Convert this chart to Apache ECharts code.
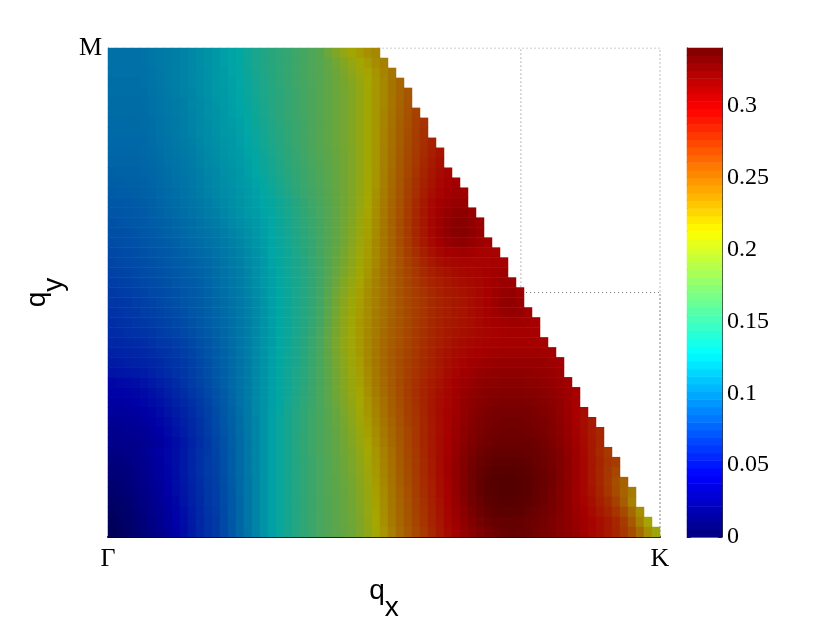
<!DOCTYPE html>
<html><head><meta charset="utf-8">
<script src="https://cdn.jsdelivr.net/npm/echarts@6/dist/echarts.min.js"></script>
<style>html,body{margin:0;padding:0;background:#fff}#c{width:830px;height:624px}</style></head>
<body><div id="c"></div>
<script>
const row00=[100,100,100,100,101,103,105,106,108,110,112,115,118,121,124,126,129,135,140,144,148,151,155,159,163,167,172,182,192,203,211,218,224,229];
const row01=[100,100,100,100,101,103,105,106,108,110,112,115,118,121,124,126,129,135,140,144,148,151,155,159,163,167,171,178,186,195,204,211,218,226,232];
const row02=[100,100,100,100,100,102,104,106,108,110,112,114,117,120,123,126,128,134,139,143,147,151,155,159,163,167,171,176,183,191,199,207,214,222,230,238];
const row03=[99,99,99,99,100,102,104,106,108,110,112,114,117,120,123,125,128,133,138,143,147,151,155,159,163,167,171,176,182,189,196,204,212,220,229,238,246];
const row04=[99,99,99,99,99,101,103,105,107,109,111,114,117,120,122,125,127,132,137,142,146,150,154,158,162,166,171,176,181,187,194,202,211,220,229,238,246,254];
const row05=[98,98,98,98,99,100,102,104,106,108,111,113,116,119,122,124,127,131,136,141,146,150,154,158,162,166,171,176,181,187,194,202,211,220,229,238,247,255];
const row06=[98,98,98,98,98,100,102,104,106,108,110,113,116,118,121,124,126,130,135,140,145,150,154,158,162,166,171,176,181,187,194,202,211,220,230,239,248,256,264];
const row07=[97,97,97,97,98,99,101,103,105,107,110,112,115,118,120,123,125,129,134,139,144,149,153,157,161,166,171,176,181,187,194,202,211,220,230,240,249,257,265,272];
const row08=[97,97,97,97,97,99,101,103,105,107,109,112,114,117,120,122,125,128,133,138,143,148,152,157,161,166,171,176,181,187,194,202,211,221,231,241,250,258,266,273];
const row09=[96,96,96,96,96,98,100,102,104,106,108,111,114,116,119,121,124,127,132,137,142,147,152,156,161,166,171,176,181,187,194,202,211,221,231,241,250,259,267,274,281];
const row10=[95,95,95,95,96,97,99,101,103,105,107,110,113,115,118,120,123,126,130,135,140,145,150,155,160,165,170,175,180,186,193,201,211,221,232,242,251,260,268,275,282,288];
const row11=[94,94,94,94,95,96,98,100,102,104,106,109,112,114,117,119,122,125,129,134,139,144,149,154,159,164,169,174,180,186,193,201,211,221,232,242,252,261,269,277,284,290];
const row12=[92,93,93,93,94,95,97,99,101,103,105,108,111,113,116,118,121,124,128,132,137,142,148,153,158,163,168,173,179,186,193,201,211,222,233,243,253,262,271,279,286,292,296];
const row13=[91,91,92,92,93,94,96,98,100,102,104,107,110,112,115,117,120,123,126,130,135,141,146,152,157,162,167,173,179,185,193,201,211,222,233,244,254,264,273,281,288,294,298,300];
const row14=[89,90,90,91,92,93,95,97,99,101,103,106,109,111,114,116,119,122,125,129,133,139,144,150,156,161,166,172,178,185,193,202,212,223,234,245,255,265,274,283,290,296,300,303,302];
const row15=[87,87,88,89,90,92,94,96,98,100,102,104,107,110,113,115,118,121,124,127,131,136,141,147,153,159,165,171,178,185,193,203,213,224,235,246,256,266,276,285,293,299,303,306,306];
const row16=[86,86,87,88,89,91,93,95,97,99,101,103,106,108,111,114,117,120,123,126,130,135,140,146,152,158,164,170,177,185,194,204,214,225,236,247,257,267,277,286,294,301,306,310,310,306];
const row17=[84,85,86,87,88,90,91,93,95,97,99,101,104,106,109,112,115,118,121,125,129,134,139,145,151,157,163,170,177,185,195,205,215,226,237,248,258,268,278,287,295,303,309,313,313,309,304];
const row18=[83,83,84,85,87,88,90,92,94,96,98,100,102,104,107,110,113,116,120,124,128,133,138,144,150,156,163,170,177,186,196,206,216,227,238,248,258,268,278,287,295,303,309,313,314,310,305];
const row19=[81,82,83,84,85,87,88,90,92,94,96,98,100,102,105,108,111,115,119,123,127,132,137,143,149,155,162,169,177,186,197,207,217,228,238,248,258,267,277,285,293,300,306,309,310,307,303,300];
const row20=[79,80,81,82,84,85,87,88,90,92,94,96,98,100,103,106,109,113,117,122,127,131,136,142,148,155,162,170,178,188,198,208,218,228,238,248,257,266,274,282,289,295,299,301,302,300,298,297,296];
const row21=[78,79,80,81,82,84,85,87,89,90,92,94,96,99,102,105,108,112,116,121,126,131,136,141,147,154,161,169,179,189,199,209,219,229,239,248,256,264,272,279,285,290,293,295,296,296,296,296,297,298];
const row22=[76,77,78,79,81,82,84,85,87,89,91,93,95,98,101,104,107,111,116,120,125,130,135,141,147,153,161,170,180,191,201,211,221,231,240,248,256,263,270,276,282,286,289,292,294,295,296,298,300,302];
const row23=[74,75,76,78,79,81,82,84,86,88,89,91,94,97,100,103,106,110,115,120,125,130,135,140,146,153,161,171,182,194,204,214,223,232,240,248,255,262,268,274,279,283,286,289,291,293,295,298,301,304,303];
const row24=[72,73,74,76,77,79,80,82,84,86,88,90,93,96,99,102,105,109,114,119,124,129,134,140,146,153,161,172,184,196,206,216,225,233,240,248,255,261,267,272,277,281,284,287,289,291,294,298,302,306,307,303];
const row25=[70,71,72,74,75,77,79,81,83,85,87,89,92,95,98,101,104,108,113,118,124,129,134,140,146,153,162,173,186,198,208,217,226,233,241,248,255,261,266,271,276,280,283,286,288,291,294,298,303,308,309,305];
const row26=[68,69,70,72,74,75,77,79,81,83,86,88,91,94,97,100,104,108,113,118,124,129,134,140,146,153,162,174,187,199,209,218,226,234,241,248,255,261,266,271,276,280,283,286,288,291,294,298,302,306,308,306,301];
const row27=[66,67,68,70,72,73,75,77,79,81,84,87,90,93,96,99,103,107,112,118,124,129,134,140,146,154,163,175,188,200,210,219,227,235,242,249,255,261,267,272,277,281,284,287,289,291,294,297,299,301,302,302,300,298];
const row28=[65,66,67,68,69,71,73,75,77,79,82,85,88,92,95,99,103,107,112,118,123,129,134,140,147,155,164,176,189,200,210,219,228,235,243,250,256,262,268,273,278,282,285,288,290,292,294,296,297,298,299,299,299,298];
const row29=[63,63,64,65,66,68,70,72,74,76,79,83,86,90,94,98,102,107,112,118,123,129,134,141,148,156,165,177,190,201,210,219,228,236,244,251,257,263,269,274,279,283,287,290,292,294,296,297,298,299,299,299,299,299,298];
const row30=[59,60,61,62,63,65,67,69,72,74,77,81,85,89,93,97,102,107,112,118,124,129,135,141,148,156,165,176,189,200,209,219,228,237,245,252,258,264,270,275,280,285,289,292,294,297,298,300,301,302,302,302,302,302,301,300];
const row31=[56,57,58,59,60,62,64,67,69,72,75,79,83,88,92,97,101,106,112,118,124,130,135,141,148,156,165,175,187,198,208,218,228,237,245,252,259,265,271,276,281,286,290,294,297,300,302,304,305,306,306,306,306,306,305,303,301];
const row32=[52,53,54,55,57,59,62,65,68,71,74,78,82,87,91,96,101,106,112,118,124,130,136,142,149,156,165,175,186,197,207,217,227,236,245,252,259,266,272,277,282,287,292,296,300,303,306,308,309,310,310,310,309,308,307,305,302];
const row33=[46,47,48,50,52,55,58,61,65,69,73,77,81,86,91,96,101,106,112,118,124,130,136,142,149,157,165,174,185,196,206,216,226,236,244,252,260,267,273,279,284,289,294,299,303,306,309,311,312,313,313,313,312,311,309,307,304,301];
const row34=[43,43,44,46,48,51,54,58,62,66,70,74,79,84,89,95,100,106,112,118,124,130,136,143,150,157,165,174,184,194,204,214,224,234,243,251,259,267,274,280,285,290,295,300,305,309,312,314,315,316,316,316,315,314,312,309,306,302,298];
const row35=[40,40,41,43,45,48,51,55,59,63,67,72,77,83,88,94,100,106,112,118,124,130,137,144,151,158,165,173,182,192,202,212,222,232,241,250,258,266,273,280,286,291,296,301,307,311,314,316,318,319,319,319,318,317,315,312,308,303,298];
const row36=[37,37,38,39,41,44,48,52,56,60,65,70,75,81,87,93,99,105,112,118,125,131,138,145,152,159,165,172,180,190,200,210,220,230,240,249,257,265,272,279,286,292,297,302,308,313,316,319,321,322,322,322,321,319,317,314,309,304,298,292];
const row37=[34,34,35,36,38,41,45,49,54,58,63,68,74,80,86,92,98,105,111,118,125,132,139,146,152,159,165,172,179,188,198,208,218,228,238,247,256,264,271,278,285,291,297,303,309,314,318,321,323,324,324,324,323,321,319,316,311,305,298,291,284];
const row38=[30,31,32,33,35,38,42,47,52,57,62,67,73,79,85,91,98,104,111,118,125,132,139,146,153,159,165,171,178,186,196,206,216,226,236,245,254,262,270,278,285,291,297,304,310,316,320,323,325,326,327,326,325,323,321,317,312,306,299,292,284,278];
const row39=[28,28,29,30,32,35,39,44,49,54,60,66,72,78,84,91,97,104,111,118,125,132,139,146,153,159,165,171,177,185,194,204,214,224,234,244,253,262,270,278,285,292,298,305,312,318,322,325,328,329,329,329,328,326,323,319,314,308,301,293,285,278];
const row40=[25,25,27,29,33,37,41,46,50,55,61,67,72,77,84,90,97,104,111,118,125,132,139,146,153,159,165,171,177,184,192,202,212,222,232,242,252,261,269,277,285,292,299,306,314,320,325,328,331,332,332,331,330,328,325,321,316,309,302,294,285,276,269];
const row41=[22,22,24,27,31,35,40,45,50,55,61,67,73,76,83,90,97,104,111,118,125,132,139,146,152,158,164,170,176,183,191,200,210,220,231,241,251,260,268,276,284,292,300,308,316,323,328,332,334,335,335,334,333,330,327,323,317,310,303,295,287,279,272,267];
const row42=[19,20,22,25,29,34,39,44,49,55,61,67,73,76,83,90,97,104,111,118,125,132,139,146,152,158,164,170,176,182,190,198,208,219,230,240,250,259,268,276,284,292,300,309,317,325,331,335,338,339,338,337,335,332,328,324,318,311,303,295,286,278,270,262];
const row43=[16,17,20,23,28,33,38,43,49,54,60,66,72,75,82,89,96,103,110,118,125,132,139,146,152,158,164,170,175,181,188,197,207,218,229,239,249,258,267,275,283,291,299,308,316,325,332,337,339,340,340,339,336,333,329,325,318,311,303,295,287,278,269,258,248];
const row44=[13,15,18,22,26,31,36,42,48,53,59,65,71,74,81,88,96,103,110,118,125,132,139,146,152,158,164,170,175,180,187,196,205,216,227,238,248,257,266,274,282,290,298,307,316,324,331,336,339,340,340,339,336,332,328,323,317,310,302,295,288,280,271,260,247,235];
const row45=[10,12,15,19,24,29,34,40,46,52,58,64,70,74,81,88,95,103,110,118,125,132,139,146,152,158,164,169,174,179,186,194,204,215,226,237,247,256,265,273,281,289,297,306,315,323,329,334,337,338,338,337,334,331,327,322,317,310,303,297,290,283,275,265,250,232];
const row46=[7,10,13,17,22,27,32,38,44,50,57,63,69,73,80,88,95,103,110,118,125,132,139,146,152,158,164,169,174,179,185,193,203,214,225,236,246,255,264,272,280,288,296,304,312,320,326,331,334,335,335,334,332,329,325,321,316,310,304,299,293,287,280,272,260,244,225];
const row47=[4,8,11,15,20,25,31,37,43,49,56,63,68,72,80,87,95,103,110,118,125,132,139,146,152,158,164,169,174,179,184,192,202,213,224,235,245,254,263,271,279,287,295,302,309,316,322,327,330,332,332,331,329,326,323,319,315,310,305,301,296,291,285,278,268,252,232,214];
const row48=[2,6,10,14,19,24,30,36,42,48,55,62,68,72,79,87,95,102,110,118,125,132,139,146,152,158,164,169,174,178,183,191,200,211,222,233,243,252,261,269,277,285,293,300,307,313,318,323,327,330,331,330,328,325,322,319,315,310,306,301,296,291,285,279,271,260,243,225,207];
const rows=[row00,row01,row02,row03,row04,row05,row06,row07,row08,row09,row10,row11,row12,row13,row14,row15,row16,row17,row18,row19,row20,row21,row22,row23,row24,row25,row26,row27,row28,row29,row30,row31,row32,row33,row34,row35,row36,row37,row38,row39,row40,row41,row42,row43,row44,row45,row46,row47,row48];
const colorbarTicks=[0,0.05,0.1,0.15,0.2,0.25,0.3];
const boxOutline=[[0.49,1],[1,1],[1,0],[1,0.5],[0.748,0.5],[0.748,1]];
const vMax=0.3405, levels=64;
function jet(t,f){const c=x=>Math.round(255*f*Math.max(0,Math.min(1,1.5-Math.abs(4*t-x))));return `rgb(${c(3)},${c(2)},${c(1)})`;}
function pieces(f){const p=[];for(let i=0;i<levels;i++)p.push({gte:i===0?-1:vMax*i/levels,lt:i===levels-1?9:vMax*(i+1)/levels,color:jet((i+.5)/levels,f)});return p;}
const mutedRamp=Array.from({length:levels+1},(_,i)=>jet(i/levels,0.65));
const nC=69,nR=rows.length;
const data=[];rows.forEach((r,i)=>r.forEach((v,j)=>data.push([j,nR-1-i,v/1000])));
const cbData=[];for(let i=0;i<levels;i++)cbData.push([0,i,vMax*(i+.5)/levels]);
const serif='"Liberation Serif"',sans='"Liberation Sans"';
const idx=n=>Array.from({length:n},(_,i)=>i);
const hidden={show:false};
const qRich={q:{fontFamily:sans,fontSize:28,color:'#000'},x:{fontFamily:sans,fontSize:28,color:'#000',padding:[34,0,0,0]}};
const chart=echarts.init(document.getElementById('c'),null,{renderer:'canvas'});
chart.setOption({animation:false,backgroundColor:'#fff',
grid:[{left:108,top:48,width:552,height:489,outerBoundsMode:'none'},{left:687,top:48,width:35,height:489,outerBoundsMode:'none'}],
xAxis:[
{type:'category',gridIndex:0,data:idx(nC),...hidden},
{type:'value',gridIndex:0,min:0,max:1,interval:1,position:'bottom',
 axisLine:{show:true,onZero:false,lineStyle:{color:'#000',width:2}},axisTick:{show:false},splitLine:{show:false},
 axisLabel:{show:true,fontFamily:serif,fontSize:26,color:'#000',margin:9,formatter:v=>v===0?'Γ':'K',showMinLabel:true,showMaxLabel:true},
 name:'{q|q}{x|x}',nameLocation:'middle',nameGap:23,nameTextStyle:{rich:qRich}},
{type:'category',gridIndex:1,data:[0],position:'top',axisLine:{show:true,lineStyle:{color:'#888'}},axisTick:{show:false},axisLabel:{show:false}}
],
yAxis:[
{type:'category',gridIndex:0,data:idx(nR),...hidden},
{type:'value',gridIndex:0,min:0,max:1,interval:1,position:'left',
 axisLine:{show:true,onZero:false,lineStyle:{color:'#888',width:1}},axisTick:{show:false},splitLine:{show:false},
 axisLabel:{show:true,fontFamily:serif,fontSize:26,color:'#000',margin:6,padding:[0,0,-5,0],formatter:v=>v===1?'M':''},
 name:'{q|q}{x|y}',nameLocation:'middle',nameGap:38,nameTextStyle:{rich:qRich}},
{type:'category',gridIndex:1,data:idx(levels),...hidden},
{type:'value',gridIndex:1,min:0,max:vMax,interval:0.05,position:'right',
 axisLine:{show:true,onZero:false,lineStyle:{color:'#333'}},axisTick:{show:true,inside:true,length:4,lineStyle:{color:'#222'}},splitLine:{show:false},
 axisLabel:{fontFamily:serif,fontSize:24,color:'#000',margin:5,formatter:v=>colorbarTicks.some(t=>Math.abs(t-v)<1e-6)?String(+v.toFixed(2)):'',hideOverlap:false,showMaxLabel:false}},
{type:'value',gridIndex:1,min:0,max:vMax,interval:0.05,position:'left',
 axisLine:{show:true,onZero:false,lineStyle:{color:'#000'}},axisTick:{show:true,inside:true,length:4,lineStyle:{color:'#222'}},axisLabel:{show:false},splitLine:{show:false}}
],
visualMap:[
{type:'continuous',show:false,seriesIndex:0,dimension:2,min:0,max:vMax,inRange:{color:mutedRamp}},
{type:'piecewise',show:false,seriesIndex:1,dimension:2,pieces:pieces(1)}
],
series:[
{type:'heatmap',xAxisIndex:0,yAxisIndex:0,data:data,z:3,progressive:0,itemStyle:{borderWidth:0}},
{type:'heatmap',xAxisIndex:2,yAxisIndex:2,data:cbData,z:1,progressive:0},
{type:'line',xAxisIndex:1,yAxisIndex:1,z:1,symbol:'none',silent:true,lineStyle:{type:[1,3],color:'#777',width:1},data:boxOutline}
]});
</script></body></html>
